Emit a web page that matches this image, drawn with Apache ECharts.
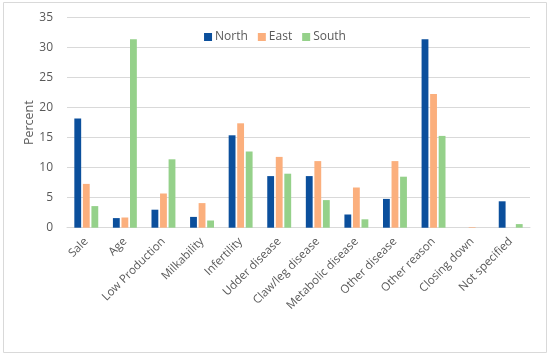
<!DOCTYPE html>
<html><head><meta charset="utf-8">
<script src="https://cdn.jsdelivr.net/npm/echarts@6/dist/echarts.min.js"></script>
<style>html,body{margin:0;padding:0;background:#fff}#c{width:550px;height:356px}</style>
</head><body><div id="c"></div>
<script>
var categories = ["Sale","Age","Low Production","Milkability","Infertility","Udder disease","Claw/leg disease","Metabolic disease","Other disease","Other reason","Closing down","Not specified"];
var north = [18.2,1.6,3.0,1.8,15.4,8.6,8.6,2.2,4.8,31.4,0,4.4];
var east  = [7.3,1.7,5.7,4.1,17.4,11.8,11.1,6.7,11.1,22.3,0.1,0];
var south = [3.6,31.4,11.4,1.2,12.7,9.0,4.6,1.4,8.5,15.3,0,0.6];
var yTicks = [0,5,10,15,20,25,30,35];

var chart = echarts.init(document.getElementById('c'));
var txt = '#595959';
var font = 'Open Sans';
chart.setOption({
  animation:false,
  graphic:[{type:'rect',shape:{x:3.5,y:2.5,width:543,height:350},style:{fill:'none',stroke:'#d9d9d9',lineWidth:1}}],
  legend:{top:26,left:'center',itemWidth:8,itemHeight:8,itemGap:10,icon:'rect',
    textStyle:{color:txt,fontSize:12,fontFamily:font,padding:[0,0,0,-2]},
    data:['North','East','South']},
  grid:{left:67,right:20,top:17.7,bottom:128.3},
  xAxis:{type:'category',data:categories,
    axisLine:{lineStyle:{color:'#d9d9d9'}},axisTick:{show:false},
    axisLabel:{rotate:45,color:txt,fontSize:11.5,fontFamily:font,margin:12,interval:0}},
  yAxis:{type:'value',min:yTicks[0],max:yTicks[yTicks.length-1],interval:5,
    name:'Percent',nameLocation:'middle',nameGap:31,nameRotate:90,nameMoveOverlap:false,
    nameTextStyle:{color:txt,fontSize:12.5,fontFamily:font},
    axisLine:{show:false},axisTick:{show:false},
    axisLabel:{color:txt,fontSize:12,fontFamily:font,margin:14},
    splitLine:{lineStyle:{color:'#d9d9d9',width:1}}},
  series:[
    {name:'North',type:'bar',data:north,itemStyle:{color:'#0B4F9C'},barGap:'25%',barCategoryGap:'38%'},
    {name:'East',type:'bar',data:east,itemStyle:{color:'#FBAF7D'}},
    {name:'South',type:'bar',data:south,itemStyle:{color:'#95D18A'}}
  ]
});
</script></body></html>
